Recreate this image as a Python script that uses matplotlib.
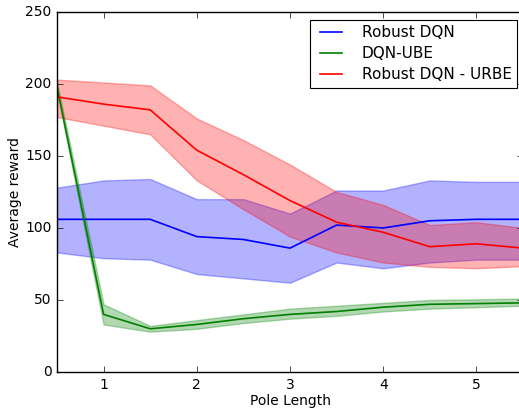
import numpy as np
import matplotlib
matplotlib.use("Agg")
import matplotlib.pyplot as plt

plt.style.use("classic")

# Data
pole_length = [0.5, 1.0, 1.5, 2.0, 2.5, 3.0, 3.5, 4.0, 4.5, 5.0, 5.5]

robust_mean = [106, 106, 106, 94, 92, 86, 102, 100, 105, 106, 106]
robust_upper = [128, 133, 134, 120, 120, 110, 126, 126, 133, 132, 132]
robust_lower = [83, 79, 78, 68, 65, 62, 76, 72, 76, 78, 78]

ube_mean = [198, 40, 30, 33, 37, 40, 42, 45, 47, 47.5, 48]
ube_upper = [201, 47, 32, 36, 40, 44, 46, 48, 50, 50.5, 51]
ube_lower = [195, 33, 28, 30, 34, 37, 39, 42, 44, 45, 46]

urbe_mean = [191, 186, 182, 154, 137, 119, 104, 97, 87, 89, 86]
urbe_upper = [203, 201, 199, 176, 161, 144, 125, 116, 102, 104, 100]
urbe_lower = [177, 171, 165, 133, 113, 94, 83, 76, 73, 72, 73.5]

fig = plt.figure(figsize=(5.19, 4.12), dpi=100)
fig.patch.set_facecolor("white")
ax = fig.add_axes([0.1098, 0.0971, 0.898, 0.874])

series = [
    ("Robust DQN", robust_mean, robust_lower, robust_upper, "b"),
    ("DQN-UBE", ube_mean, ube_lower, ube_upper, "g"),
    ("Robust DQN - URBE", urbe_mean, urbe_lower, urbe_upper, "r"),
]
for name, mean, lo, hi, c in series:
    ax.fill_between(pole_length, lo, hi, color=c, alpha=0.3, linewidth=1)
    ax.plot(pole_length, mean, color=c, linewidth=1.2, label=name)

ax.set_xlim(0.5, 5.5)
ax.set_ylim(0, 250)
ax.set_xticks([1, 2, 3, 4, 5])
ax.set_yticks([0, 50, 100, 150, 200, 250])
ax.tick_params(labelsize=10)
ax.set_xlabel("Pole Length", fontsize=10, labelpad=2)
ax.set_ylabel("Average reward", fontsize=10, labelpad=2)

leg = ax.legend(loc="upper right", fontsize=11, bbox_to_anchor=(0.987, 0.978),
                borderaxespad=0, handlelength=2.0, handletextpad=1.0,
                borderpad=0.35, labelspacing=0.4)
leg.get_frame().set_linewidth(0.8)

fig.savefig("out.png", dpi=100, facecolor="white")
